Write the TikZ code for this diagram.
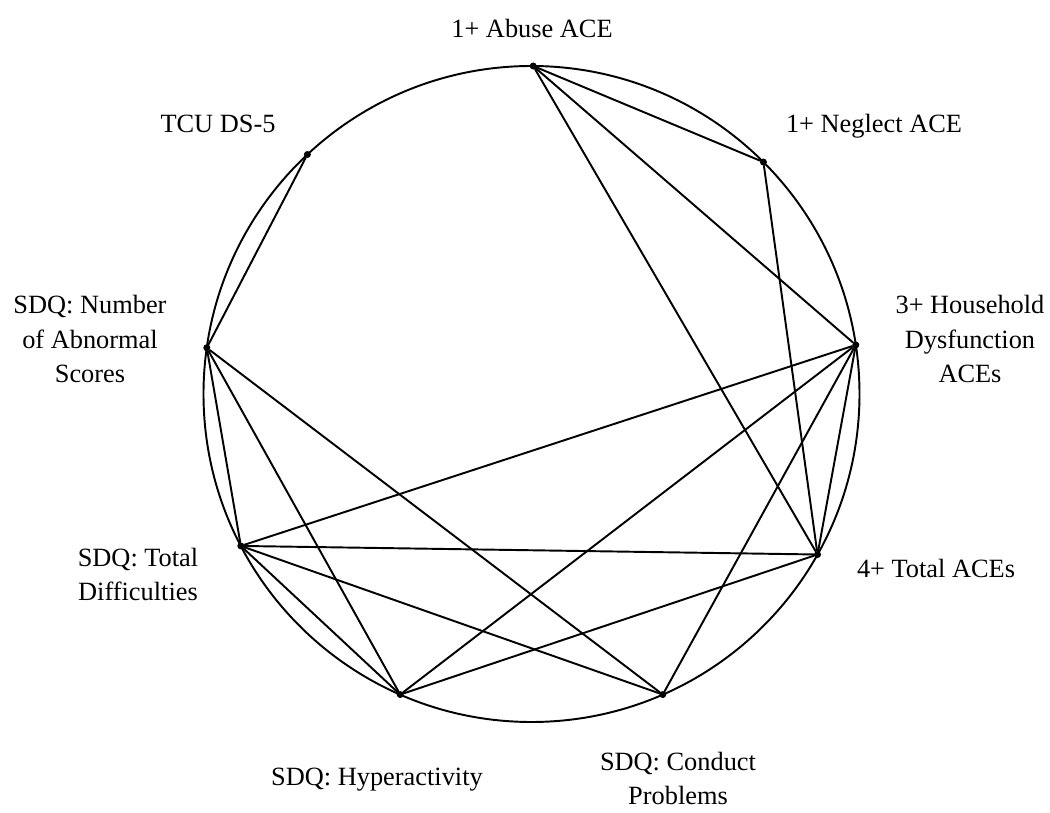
\documentclass[tikz,border=0pt]{standalone}
\usepackage{fontspec}
\setmainfont{Liberation Serif}
\usetikzlibrary{calc}
\begin{document}
\begin{tikzpicture}[
  edge/.style={line width=1.1pt, line cap=round},
  vdot/.style={circle, fill=black, inner sep=0pt, minimum size=0.14cm},
  lbl/.style={font=\fontsize{15}{19.9}\selectfont, align=center, inner sep=0pt, anchor=base}
]
\useasboundingbox (0,0) rectangle (21,-16.26);
\coordinate (O) at (10.63,-7.88);
\draw[line width=1.1pt] (O) circle (6.56cm);
% vertices on the circle
\node[vdot] (A) at ($(O)+(89.7:6.56)$) {};
\node[vdot] (N) at ($(O)+(45.0:6.56)$) {};
\node[vdot] (HH) at ($(O)+(8.6:6.56)$) {};
\node[vdot] (T) at ($(O)+(-29.3:6.56)$) {};
\node[vdot] (C) at ($(O)+(-66.4:6.56)$) {};
\node[vdot] (H) at ($(O)+(-113.6:6.56)$) {};
\node[vdot] (D) at ($(O)+(-152.4:6.56)$) {};
\node[vdot] (M) at ($(O)+(171.9:6.56)$) {};
\node[vdot] (U) at ($(O)+(133.1:6.56)$) {};
% labels (base anchor = baseline of last line)
\node[lbl] (lA) at (10.64,-0.76) {1+ Abuse ACE};
\node[lbl] (lN) at (17.48,-2.66) {1+ Neglect ACE};
\node[lbl] (lU) at (4.36,-2.66) {TCU DS-5};
\node[lbl] (lHH) at (19.40,-7.66) {3+ Household\\Dysfunction\\ACEs};
\node[lbl] (lM) at (1.80,-7.66) {SDQ: Number\\of Abnormal\\Scores};
\node[lbl] (lT) at (18.72,-11.56) {4+ Total ACEs};
\node[lbl] (lD) at (2.76,-12.02) {SDQ: Total\\Difficulties};
\node[lbl] (lH) at (7.54,-15.72) {SDQ: Hyperactivity};
\node[lbl] (lC) at (13.56,-16.10) {SDQ: Conduct\\Problems};
% edges
\draw[edge] (U) -- (M);
\draw[edge] (A) -- (N);
\draw[edge] (A) -- (HH);
\draw[edge] (A) -- (T);
\draw[edge] (N) -- (T);
\draw[edge] (HH) -- (T);
\draw[edge] (HH) -- (D);
\draw[edge] (HH) -- (H);
\draw[edge] (HH) -- (C);
\draw[edge] (T) -- (D);
\draw[edge] (T) -- (H);
\draw[edge] (M) -- (D);
\draw[edge] (M) -- (H);
\draw[edge] (M) -- (C);
\draw[edge] (D) -- (H);
\draw[edge] (D) -- (C);
\end{tikzpicture}
\end{document}
